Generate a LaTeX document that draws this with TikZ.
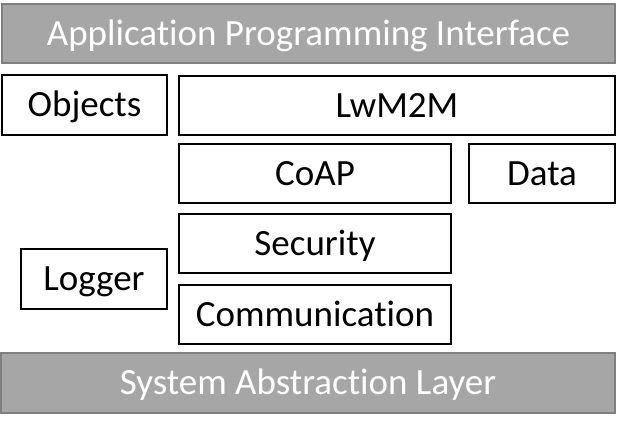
\documentclass[tikz,border=0pt]{standalone}
\usepackage{fontspec}
\setmainfont{Carlito}[Ligatures=NoCommon]
\definecolor{barfill}{HTML}{A6A6A6}
\definecolor{barline}{HTML}{7F7F7F}
\begin{document}
\begin{tikzpicture}[x=1pt,y=-1pt,
  layer/.style={draw=black,fill=white,line width=2pt,inner sep=0pt,
    text height=23.5pt,text depth=0pt,
    font=\fontsize{37}{42}\selectfont,text=black},
  bar/.style={layer,draw=barline,fill=barfill,text=white}]
\useasboundingbox (0,0) rectangle (617,429);
% gray interface bars
\node[bar,minimum width=613,minimum height=59] (api) at (308.5,33.5) {Application Programming Interface};
\node[bar,minimum width=614,minimum height=60] (sal) at (308,383) {System Abstraction Layer};
% stack components
\node[layer,minimum width=165,minimum height=60] (objects) at (84.5,105) {Objects};
\node[layer,minimum width=436,minimum height=59] (lwm2m) at (397,105.5) {LwM2M};
\node[layer,minimum width=272,minimum height=59] (coap) at (315,173.5) {CoAP};
\node[layer,minimum width=146,minimum height=59] (data) at (542,173.5) {Data};
\node[layer,minimum width=272,minimum height=59] (security) at (315,243.5) {Security};
\node[layer,minimum width=146,minimum height=60] (logger) at (94,279) {Logger};
\node[layer,minimum width=272,minimum height=59] (comm) at (315,314.5) {Communication};
\end{tikzpicture}
\end{document}
